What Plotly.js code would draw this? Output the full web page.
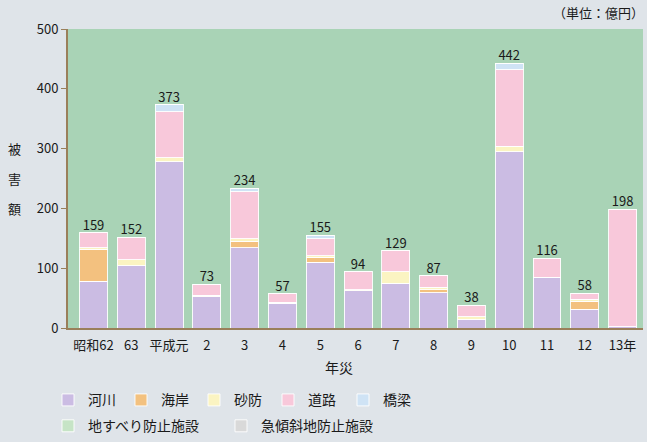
<!DOCTYPE html>
<html>
<head>
<meta charset="utf-8">
<script src="https://cdn.plot.ly/plotly-3.0.1.min.js"></script>
<style>
html,body{margin:0;padding:0;background:#dfe4e9;}
#chart{width:647px;height:442px;}
</style>
</head>
<body>
<div id="chart"></div>
<script>
const years = ['昭和62','63','平成元','2','3','4','5','6','7','8','9','10','11','12','13年'];
const kasen    = [78,104,278,52,134,41,110,62,75,59,15,295,85,31,2];
const kaigan   = [54,0,0,0,11,0,8,0,0,5,0,0,0,14,0];
const sabo     = [2,10,7,3,4,2,3,2,19,4,4,9,0,3,0];
const doro     = [25,38,77,18,79,14,28,30,35,19,19,128,31,10,196];
const kyoryo   = [0,0,11,0,6,0,6,0,0,0,0,10,0,0,0];
const jisuberi = [0,0,0,0,0,0,0,0,0,0,0,0,0,0,0];
const kyukeisha= [0,0,0,0,0,0,0,0,0,0,0,0,0,0,0];
const totals   = [159,152,373,73,234,57,155,94,129,87,38,442,116,58,198];

const FONT = '"Noto Sans CJK JP", "Noto Sans", sans-serif';
const series = [
  {name:'河川', y:kasen, color:'#cbbce3'},
  {name:'海岸', y:kaigan, color:'#f3c17f'},
  {name:'砂防', y:sabo, color:'#fbf4c2'},
  {name:'道路', y:doro, color:'#f8c8da'},
  {name:'橋梁', y:kyoryo, color:'#cfe3f5'},
  {name:'地すべり防止施設', y:jisuberi, color:'#c6e4c6'},
  {name:'急傾斜地防止施設', y:kyukeisha, color:'#d9d9d9'}
];
// legend placement (pixel swatch centre x, row)
const legendPos = [[66,0],[139,0],[212,0],[286,0],[361,0],[66,1],[239,1]];
const rowTop = [385, 411];

const traces = series.map((s, i) => ({
  type:'bar', x:years, y:s.y, name:s.name, legend: i === 0 ? 'legend' : 'legend' + (i + 1),
  marker:{color:s.color, line:{color:'rgba(255,255,255,0.9)', width:1}},
  hoverinfo:'name+y'
}));
traces.push({
  type:'scatter', mode:'text', x:years, y:totals, text:totals.map(String),
  textposition:'top center', showlegend:false, hoverinfo:'skip',
  textfont:{family:FONT, size:13, color:'#1a1a1a'}
});

const layout = {
  width:647, height:442,
  margin:{l:68, r:4, t:28.5, b:113.5, autoexpand:false},
  paper_bgcolor:'#dfe4e9',
  plot_bgcolor:'#a9d3b6',
  barmode:'stack',
  bargap:0.26,
  font:{family:FONT, size:13, color:'#1a1a1a'},
  xaxis:{type:'category', range:[-0.675,14.54], showgrid:false, zeroline:false,
    showline:true, linecolor:'#9a7f5a', linewidth:2, ticks:'', tickfont:{size:13},
    ticklabelstandoff:4},
  yaxis:{range:[0,500], dtick:100, showgrid:false, zeroline:false,
    showline:true, linecolor:'#9a7f5a', linewidth:2, ticks:'outside', ticklen:5,
    tickcolor:'#9a7f5a', tickfont:{size:13}},
  annotations:[
    {text:'（単位：億円）', xref:'paper', yref:'paper', x:1.005, y:1.0, yshift:17,
      xanchor:'right', yanchor:'middle', showarrow:false, font:{size:13}},
    {text:'年災', xref:'paper', yref:'paper', x:(339-68)/575, y:(328.5-368)/300,
      xanchor:'center', yanchor:'middle', showarrow:false, font:{size:14}},
    {text:'被', xref:'paper', yref:'y', x:(14-68)/575, y:300, xanchor:'center', yanchor:'middle', showarrow:false, font:{size:13}},
    {text:'害', xref:'paper', yref:'y', x:(14-68)/575, y:250, xanchor:'center', yanchor:'middle', showarrow:false, font:{size:13}},
    {text:'額', xref:'paper', yref:'y', x:(14-68)/575, y:200, xanchor:'center', yanchor:'middle', showarrow:false, font:{size:13}}
  ]
};
legendPos.forEach((p, i) => {
  const key = i === 0 ? 'legend' : 'legend' + (i + 1);
  layout[key] = {
    orientation:'h', xanchor:'left', yanchor:'top',
    x:(p[0] - 18 - 68) / 575, y:-(rowTop[p[1]] - 328.5) / 300,
    bgcolor:'rgba(0,0,0,0)', font:{size:14}, itemwidth:30
  };
});
Plotly.newPlot('chart', traces, layout, {displayModeBar:false, staticPlot:true});
</script>
</body>
</html>
